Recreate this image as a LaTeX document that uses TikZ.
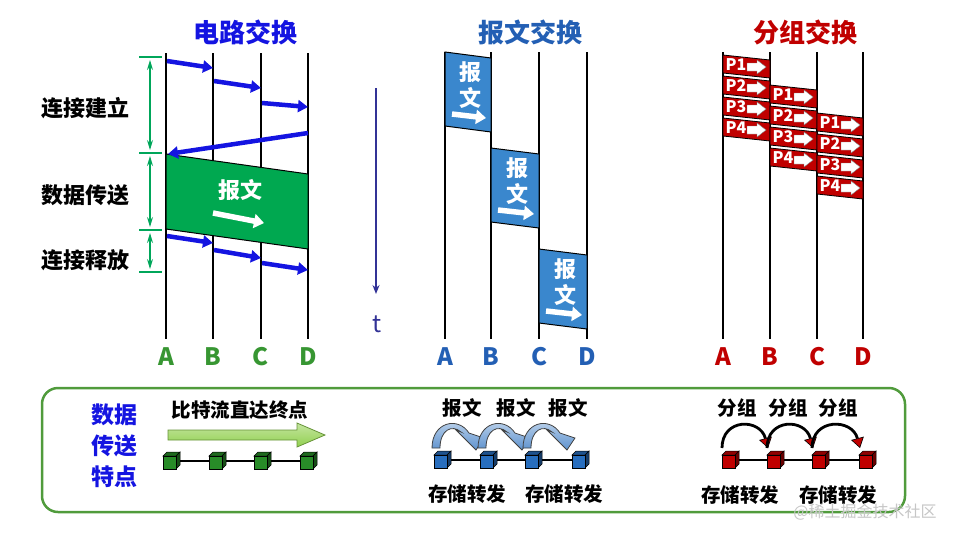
\documentclass[tikz,border=0pt]{standalone}
\usepackage{fontspec}
\setmainfont{Noto Sans CJK SC}[BoldFont={Noto Sans CJK SC Black}]
\usetikzlibrary{arrows.meta}
\usetikzlibrary{calc}

\definecolor{cblue}{RGB}{20,20,225}
\definecolor{cgreen}{RGB}{0,168,80}
\definecolor{dimgreen}{RGB}{0,166,90}
\definecolor{abcgreen}{RGB}{55,150,50}
\definecolor{mblue}{RGB}{35,95,180}
\definecolor{mfill}{RGB}{58,135,205}
\definecolor{pred}{RGB}{192,0,0}
\definecolor{tnavy}{RGB}{50,50,150}
\definecolor{boxgreen}{RGB}{80,155,60}
\definecolor{cubegreen}{RGB}{40,140,40}
\definecolor{cubeblue}{RGB}{40,110,190}
\definecolor{arrowgreen}{RGB}{146,208,80}

\tikzset{
  pics/cube/.style={code={
    \draw[fill=#1!75!black, line width=0.5pt] (-8,-5) -- (-4,-9) -- (9,-9) -- (5,-5) -- cycle;
    \draw[fill=#1!55!black, line width=0.5pt] (5,-5) -- (9,-9) -- (9,4) -- (5,8) -- cycle;
    \draw[fill=#1, line width=0.5pt] (-8,-5) rectangle (5,8);
  }}
}

\begin{document}
\begin{tikzpicture}[x=1pt, y=-1pt]

  % styles
  \tikzstyle{ttl}=[font=\fontsize{26}{27}\selectfont\bfseries]
  \tikzstyle{lbl}=[font=\fontsize{22}{23}\selectfont\bfseries]
  \tikzstyle{sublbl}=[font=\fontsize{19.5}{20}\selectfont\bfseries]
  \tikzstyle{abcd}=[font=\fontsize{24}{25}\selectfont\bfseries]
  \tikzstyle{pk}=[font=\fontsize{16}{16}\selectfont\bfseries, text=white, inner sep=0pt]
  \tikzstyle{wire}=[line width=1.6pt]
  \tikzstyle{blk}=[draw, line width=1pt]
  \tikzstyle{sig}=[line width=4.5pt, cblue, -{Triangle[length=10pt,width=12pt]}]
  \tikzstyle{dim}=[line width=1.2pt, dimgreen, {Stealth[length=10pt,width=6pt]}-{Stealth[length=10pt,width=6pt]}, shorten <=3pt, shorten >=3pt]
  \tikzstyle{tickln}=[line width=1.5pt, dimgreen]
  \tikzstyle{warrow}=[line width=5.5pt, white, -{Triangle[length=10pt,width=14pt]}]
  \tikzstyle{hop}=[line width=2.8pt, -{Triangle[length=10pt,width=13pt,fill=pred,line width=0.6pt]}]

  \useasboundingbox (0,0) rectangle (963,539);

  % circuit switching
  \node[ttl, cblue] (ctitle) at (245,32) {电路交换};
  \foreach \n/\x in {A/166,B/213,C/261,D/308} {
    \coordinate (c\n) at (\x,53);
    \draw[wire] (c\n) -- ++(0,286);
    \node[abcd, abcgreen] (cl\n) at (\x,357) {\n};
  }
  \draw[blk, fill=cgreen] ($(cA)+(0,101)$) -- ($(cD)+(0,121)$) -- ($(cD)+(0,196)$) -- ($(cA)+(0,176)$) -- cycle;
  \node[lbl, white] (cmsg) at (240,190) {报文};
  \draw[warrow] ($(cmsg)+(-27,23)$) -- ($(cmsg)+(24,33)$);

  % setup, reply, release
  \draw[sig] ($(cA)+(1,8)$) -- ($(cB)+(0,15)$);
  \draw[sig] ($(cB)+(1,28)$) -- ($(cC)+(0,35)$);
  \draw[sig] ($(cC)+(1,50)$) -- ($(cD)+(0,54)$);
  \draw[sig] ($(cD)+(0,80)$) -- ($(cA)+(2,101)$);
  \draw[sig] ($(cA)+(1,183)$) -- ($(cB)+(0,190)$);
  \draw[sig] ($(cB)+(1,197)$) -- ($(cC)+(0,205)$);
  \draw[sig] ($(cC)+(1,210)$) -- ($(cD)+(0,217)$);

  % phases
  \foreach \i/\y in {1/57,2/153,3/230,4/272} {
    \coordinate (d\i) at (150,\y);
    \draw[tickln] ($(d\i)+(-11,0)$) -- ($(d\i)+(12,0)$);
  }
  \draw[dim] (d1) -- (d2);
  \draw[dim] (d2) -- (d3);
  \draw[dim] (d3) -- (d4);
  \node[lbl] (setup) at (85,108) {连接建立};
  \node[lbl] (xfer) at (85,195) {数据传送};
  \node[lbl] (release) at (85,260) {连接释放};

  % time
  \coordinate (t0) at (376,88);
  \coordinate (t1) at (376,294);
  \draw[line width=2pt, tnavy, -{Stealth[length=9pt,width=7pt]}] (t0) -- (t1);
  \node[font=\fontsize{24}{24}\selectfont, tnavy] (tlab) at (377,324) {t};

  % message switching
  \node[ttl, mblue] (mtitle) at (530,32) {报文交换};
  \foreach \n/\x in {A/445,B/491,C/539,D/587} {
    \coordinate (m\n) at (\x,52);
    \draw[wire] (m\n) -- ++(0,287);
    \node[abcd, mblue] (ml\n) at (\x,357) {\n};
  }
  \foreach \p/\q/\y in {A/B/0,B/C/96,C/D/197} {
    \draw[blk, fill=mfill] ($(m\p)+(0,\y)$) -- ($(m\q)+(0,\y+6)$) -- ($(m\q)+(0,\y+80)$) -- ($(m\p)+(0,\y+74)$) -- cycle;
    \node[lbl, white] (mb\p) at ($(m\p)!0.5!(m\q)+(2,\y+20)$) {报};
    \node[lbl, white] (mw\p) at ($(m\p)!0.5!(m\q)+(2,\y+46)$) {文};
    \draw[warrow] ($(m\p)+(7,\y+62)$) -- ($(m\q)+(-5,\y+66)$);
  }

  % packet switching
  \node[ttl, pred] (ptitle) at (805,32) {分组交换};
  \foreach \n/\x in {A/723,B/770,C/817,D/863} {
    \coordinate (p\n) at (\x,52);
    \draw[wire] (p\n) -- ++(0,287);
    \node[abcd, pred] (pl\n) at (\x,357) {\n};
  }
  \foreach \p/\q/\y in {A/B/3,B/C/33,C/D/61} {
    \foreach \i [evaluate=\i as \ty using \y+(\i-1)*21] in {1,...,4} {
      \draw[blk, fill=pred, line width=0.8pt] ($(p\p)+(0,\ty)$) -- ($(p\q)+(0,\ty+5)$) -- ($(p\q)+(0,\ty+23)$) -- ($(p\p)+(0,\ty+18)$) -- cycle;
      \node[pk] (pk\p\i) at ($(p\p)+(13,\ty+10)$) {P\i};
      \draw[fill=white, draw=gray, line width=0.4pt] ($(p\p)+(24,\ty+8)$) -- ++(10,0) -- ++(0,-3) -- ++(9,7) -- ++(-9,7) -- ++(0,-3) -- ++(-10,0) -- cycle;
    }
  }

  % features
  \draw[line width=2.5pt, boxgreen, rounded corners=16pt] (42,388) rectangle (905,512);
  \node[align=center, font=\fontsize{23}{31}\selectfont\bfseries, cblue] (feat) at (114,446) {数据\\传送\\特点};

  \node[sublbl] (bits) at (240,410) {比特流直达终点};
  \draw[draw=arrowgreen!70!black, top color=arrowgreen!55, bottom color=arrowgreen, line width=0.8pt]
    (168,430) -- (297,430) -- (297,423) -- (325,435) -- (297,447) -- (297,440) -- (168,440) -- cycle;
  \foreach \i/\x in {1/171,2/217,3/262,4/308} \coordinate (g\i) at (\x,461);
  \draw[line width=1.2pt] (g1) -- (g4);
  \foreach \i in {1,...,4} \pic at (g\i) {cube=cubegreen};

  \foreach \i/\x in {1/442,2/488,3/533,4/580} \coordinate (b\i) at (\x,460);
  \draw[line width=1.2pt] (b1) -- (b4);
  \foreach \i in {1,...,4} \pic at (b\i) {cube=cubeblue};
  \foreach \i in {1,2,3} {
    \draw[draw=black!75, line width=0.8pt, top color=cubeblue!25, bottom color=cubeblue!75]
      ($(b\i)+(-10,-12)$) .. controls ($(b\i)+(-10,-38)$) and ($(b\i)+(16,-44)$) .. ($(b\i)+(27,-27)$)
      -- ($(b\i)+(42,-22)$) -- ($(b\i)+(34,-10)$) -- ($(b\i)+(14,-30)$) -- ($(b\i)+(19,-28)$)
      .. controls ($(b\i)+(10,-36)$) and ($(b\i)+(-2,-30)$) .. ($(b\i)+(-2,-12)$) -- cycle;
  }
  \node[sublbl] (msg1) at (462,408) {报文};
  \node[sublbl] (msg2) at (516,408) {报文};
  \node[sublbl] (msg3) at (568,408) {报文};
  \node[sublbl] (sf1) at (467,494) {存储转发};
  \node[sublbl] (sf2) at (564,494) {存储转发};

  \foreach \i/\x in {1/730,2/775,3/820,4/867} \coordinate (r\i) at (\x,460);
  \draw[line width=1.2pt] (r1) -- (r4);
  \foreach \i in {1,...,4} \pic at (r\i) {cube=pred};
  \foreach \i/\j in {1/2,2/3,3/4}
    \draw[hop] ($(r\i)+(-8,-12)$) .. controls ($(r\i)+(-8,-42)$) and ($(r\j)+(-15,-42)$) .. ($(r\j)+(-7,-12)$);
  \node[sublbl] (pkt1) at (737,408) {分组};
  \node[sublbl] (pkt2) at (788,408) {分组};
  \node[sublbl] (pkt3) at (838,408) {分组};
  \node[sublbl] (sf3) at (740,495) {存储转发};
  \node[sublbl] (sf4) at (838,495) {存储转发};

  \node[font=\fontsize{16}{16}\selectfont, gray!45] (wm) at (865,512) {@稀土掘金技术社区};

\end{tikzpicture}
\end{document}
